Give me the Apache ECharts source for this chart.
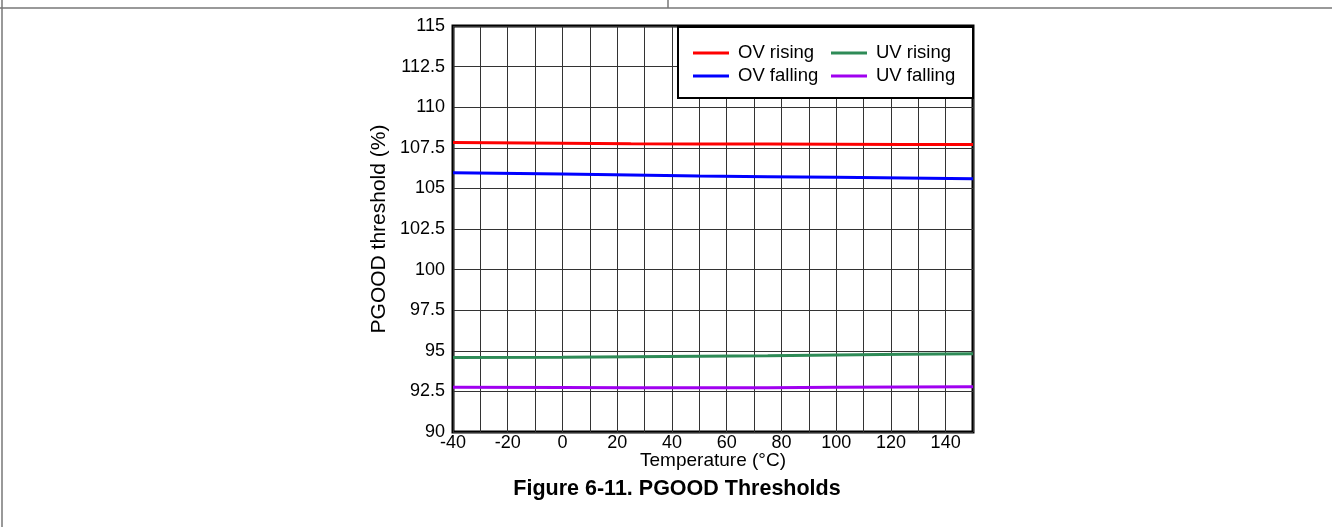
<!DOCTYPE html>
<html>
<head>
<meta charset="utf-8">
<script src="https://cdn.jsdelivr.net/npm/echarts@6/dist/echarts.min.js"></script>
<style>
html,body{margin:0;padding:0;background:#fff;}
#c{width:1332px;height:527px;}
</style>
</head>
<body>
<div id="c"></div>
<script>
// Data
const temps = [-40, 0, 25, 50, 75, 100, 125, 150];
const ovRising  = [107.83, 107.78, 107.75, 107.74, 107.73, 107.72, 107.71, 107.70];
const ovFalling = [105.97, 105.88, 105.82, 105.76, 105.72, 105.68, 105.64, 105.60];
const uvRising  = [94.59, 94.61, 94.64, 94.67, 94.70, 94.74, 94.78, 94.82];
const uvFalling = [92.76, 92.74, 92.72, 92.72, 92.73, 92.75, 92.77, 92.79];
const seriesNames = ['OV rising', 'OV falling', 'UV rising', 'UV falling'];
const seriesColors = ['#ff0000', '#0000ff', '#2e8b57', '#a000f0'];
const xLabelValues = [-40, -20, 0, 20, 40, 60, 80, 100, 120, 140];

const FONT = '"Liberation Sans", Arial, sans-serif';
const allData = [ovRising, ovFalling, uvRising, uvFalling];

const chart = echarts.init(document.getElementById('c'), null, {renderer: 'canvas'});
const legendText = {fontFamily: FONT, fontSize: 18.5, color: '#000', lineHeight: 20, padding: [0, 0, 0, 4]};
chart.setOption({
  backgroundColor: '#fff',
  animation: false,
  textStyle: {fontFamily: FONT, color: '#000'},
  title: {
    text: 'Figure 6-11. PGOOD Thresholds',
    left: 672, top: 473, textAlign: 'center',
    textStyle: {fontFamily: FONT, fontSize: 21.5, fontWeight: 'bold', color: '#000'}
  },
  grid: {
    left: 453, right: 359, top: 26, bottom: 95,
    show: true, borderColor: '#000', borderWidth: 3, backgroundColor: 'transparent'
  },
  legend: [
    {
      data: ['OV rising', 'OV falling'],
      orient: 'vertical', left: 688, top: 38,
      icon: 'rect', itemWidth: 36, itemHeight: 3, itemGap: 3,
      textStyle: legendText, selectedMode: false
    },
    {
      data: ['UV rising', 'UV falling'],
      orient: 'vertical', left: 826, top: 38,
      icon: 'rect', itemWidth: 36, itemHeight: 3, itemGap: 3,
      textStyle: legendText, selectedMode: false
    }
  ],
  xAxis: {
    type: 'value', min: -40, max: 150, interval: 10,
    name: 'Temperature (°C)', nameLocation: 'middle', nameGap: 19,
    nameMoveOverlap: false,
    nameTextStyle: {fontFamily: FONT, fontSize: 19, color: '#000', verticalAlign: 'top'},
    axisLine: {show: false}, axisTick: {show: false},
    axisLabel: {
      fontFamily: FONT, fontSize: 18, color: '#000', margin: 2,
      formatter: v => xLabelValues.indexOf(v) >= 0 ? String(v) : ''
    },
    splitLine: {show: true, lineStyle: {color: '#333', width: 1}}
  },
  yAxis: {
    type: 'value', min: 90, max: 115, interval: 2.5,
    name: 'PGOOD threshold (%)', nameLocation: 'middle', nameGap: 63,
    nameTextStyle: {fontFamily: FONT, fontSize: 21, color: '#000'},
    axisLine: {show: false}, axisTick: {show: false},
    axisLabel: {fontFamily: FONT, fontSize: 18, color: '#000', margin: 8},
    splitLine: {show: true, lineStyle: {color: '#333', width: 1}}
  },
  graphic: [
    {type: 'rect', z: 3, shape: {x: 678, y: 27, width: 295, height: 71},
     style: {fill: '#fff', stroke: '#000', lineWidth: 2}},
    {type: 'line', z: 3, shape: {x1: 0, y1: 8, x2: 1332, y2: 8}, style: {stroke: '#777', lineWidth: 1.5}},
    {type: 'line', z: 3, shape: {x1: 668, y1: 0, x2: 668, y2: 8}, style: {stroke: '#777', lineWidth: 1.5}},
    {type: 'line', z: 3, shape: {x1: 2, y1: 0, x2: 2, y2: 527}, style: {stroke: '#777', lineWidth: 1.5}}
  ],
  series: seriesNames.map((n, i) => ({
    name: n, type: 'line', showSymbol: false, symbol: 'none', smooth: false,
    color: seriesColors[i],
    lineStyle: {color: seriesColors[i], width: 3},
    data: temps.map((t, j) => [t, allData[i][j]])
  }))
});
</script>
</body>
</html>
